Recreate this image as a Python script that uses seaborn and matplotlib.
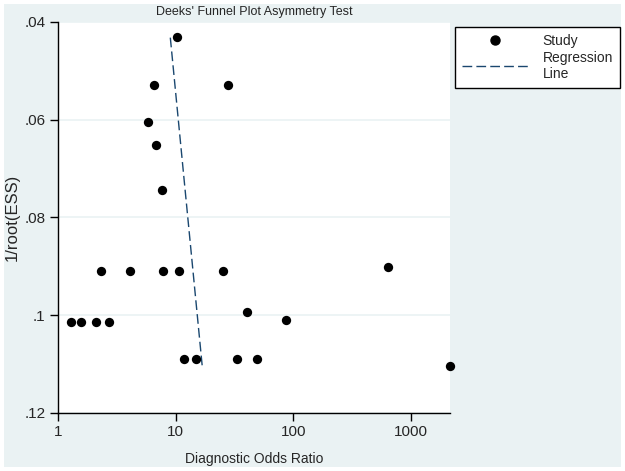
import numpy as np
import pandas as pd
import matplotlib
matplotlib.use('Agg')
import matplotlib.pyplot as plt
from matplotlib.patches import Rectangle
from matplotlib.lines import Line2D
import seaborn as sns

# studies: diagnostic odds ratio and 1/root(ESS)
dor = [10.2, 6.5, 27.8, 5.8, 6.8, 7.7,
       2.32, 4.1, 7.75, 10.7, 25.2,
       1.29, 1.56, 2.1, 2.7, 40.6, 86,
       11.7, 14.9, 33.4, 48.8, 637, 2140]
inv_root_ess = [.0430, .0529, .0529, .0605, .0652, .0744,
                .0910, .0910, .0910, .0910, .0910,
                .1014, .1014, .1014, .1014, .0993, .1009,
                .1090, .1090, .1090, .1090, .0902, .1104]

# regression line end points
reg_dor = [9.0, 16.8]
reg_y = [.0432, .1104]

studies = pd.DataFrame({'dor': dor, 'y': inv_root_ess})
reg = pd.DataFrame({'dor': reg_dor, 'y': reg_y})

sns.set_style('white')
plt.rcParams['font.family'] = ['Liberation Sans', 'DejaVu Sans']

bg = '#eaf2f3'
dash = (0, (7, 3))
fig = plt.figure(figsize=(6.25, 4.71), dpi=100)
fig.patch.set_facecolor('white')
fig.patches.append(Rectangle((4 / 625, 4 / 471), 617 / 625, 463 / 471,
                             transform=fig.transFigure, facecolor=bg,
                             edgecolor='none', zorder=-10))

ax = fig.add_axes([58 / 625, 58 / 471, 392 / 625, 391 / 471])
ax.set_facecolor('white')

sns.lineplot(data=reg, x='dor', y='y', ax=ax, color='#1a476f', lw=1.0,
             linestyle=dash, sort=False, estimator=None)
sns.scatterplot(data=studies, x='dor', y='y', ax=ax, color='black', s=45,
                edgecolor='black', linewidth=0, zorder=3, clip_on=False)

ax.set_xscale('log')
ax.set_xlim(1, max(dor))
ax.set_ylim(.12, .04)
ax.set_xticks([1, 10, 100, 1000])
ax.set_xticklabels(['1', '10', '100', '1000'])
ax.minorticks_off()
ax.set_yticks([.04, .06, .08, .1, .12])
ax.set_yticklabels(['.04', '.06', '.08', '.1', '.12'])
ax.yaxis.grid(True, color=bg, lw=1.2)
ax.set_axisbelow(True)
for s in ['top', 'right']:
    ax.spines[s].set_visible(False)
for s in ['left', 'bottom']:
    ax.spines[s].set_color('black')
    ax.spines[s].set_linewidth(1.0)
ax.tick_params(axis='both', direction='out', length=6, width=1, color='black',
               labelsize=11, left=True, bottom=True, pad=3)

ax.set_xlabel('Diagnostic Odds Ratio', fontsize=10, labelpad=9)
ax.set_ylabel('1/root(ESS)', fontsize=12, labelpad=3)
ax.set_title("Deeks' Funnel Plot Asymmetry Test", fontsize=9, pad=5)

handles = [Line2D([], [], marker='o', color='black', linestyle='none', markersize=6.5),
           Line2D([], [], color='#1a476f', lw=1.0, linestyle=dash)]
leg = fig.legend(handles, ['Study', 'Regression\nLine'],
                 loc='upper left', bbox_to_anchor=(455 / 625, 1 - 27 / 471),
                 frameon=True, fontsize=10, handlelength=4.8,
                 borderaxespad=0, labelspacing=0.2, fancybox=False,
                 borderpad=0.5, handletextpad=1.0)
leg.get_frame().set_edgecolor('black')
leg.get_frame().set_linewidth(1.0)
leg.get_frame().set_facecolor('white')
leg.get_frame().set_alpha(1)

fig.savefig('out.png', dpi=100, facecolor=fig.get_facecolor())
